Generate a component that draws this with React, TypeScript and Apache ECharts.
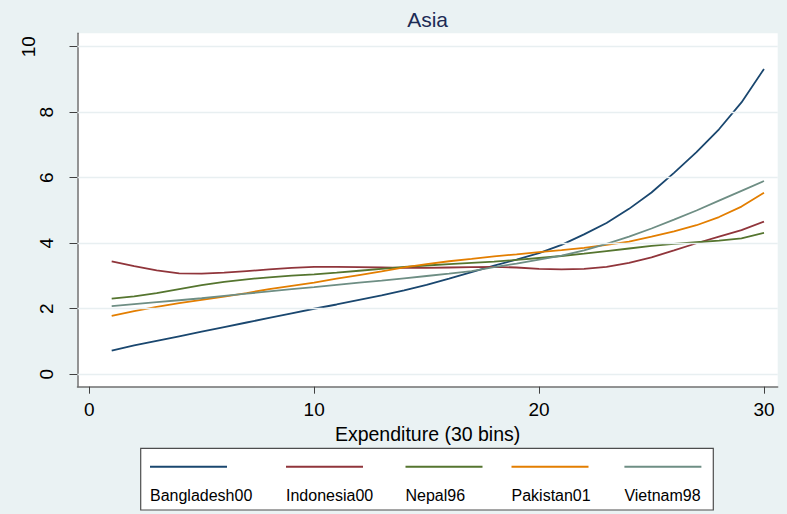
import React, { useEffect, useRef } from "react";
import * as echarts from "echarts";

const bins = [1, 2, 3, 4, 5, 6, 7, 8, 9, 10, 11, 12, 13, 14, 15, 16, 17, 18, 19, 20, 21, 22, 23, 24, 25, 26, 27, 28, 29, 30];

const seriesNames = ["Bangladesh00", "Indonesia00", "Nepal96", "Pakistan01", "Vietnam98"];

const bangladesh00 = [0.72, 0.88, 1.02, 1.16, 1.3, 1.44, 1.58, 1.72, 1.86, 2.0, 2.13, 2.27, 2.41, 2.56, 2.73, 2.92, 3.12, 3.32, 3.5, 3.7, 3.95, 4.27, 4.62, 5.05, 5.55, 6.15, 6.78, 7.48, 8.3, 9.32];
const indonesia00 = [3.45, 3.3, 3.17, 3.08, 3.07, 3.1, 3.15, 3.2, 3.25, 3.28, 3.28, 3.27, 3.26, 3.25, 3.25, 3.26, 3.27, 3.28, 3.26, 3.22, 3.2, 3.22, 3.28, 3.4, 3.57, 3.78, 4.0, 4.2, 4.4, 4.66];
const nepal96 = [2.31, 2.38, 2.48, 2.6, 2.72, 2.82, 2.9, 2.96, 3.01, 3.05, 3.1, 3.16, 3.22, 3.28, 3.32, 3.36, 3.4, 3.44, 3.49, 3.55, 3.61, 3.68, 3.76, 3.84, 3.92, 3.98, 4.03, 4.08, 4.15, 4.32];
const pakistan01 = [1.78, 1.93, 2.06, 2.17, 2.27, 2.37, 2.48, 2.6, 2.7, 2.8, 2.92, 3.03, 3.14, 3.26, 3.36, 3.45, 3.52, 3.6, 3.66, 3.73, 3.79, 3.86, 3.95, 4.05, 4.2, 4.36, 4.55, 4.8, 5.12, 5.54];
const vietnam98 = [2.08, 2.14, 2.2, 2.26, 2.32, 2.39, 2.46, 2.53, 2.6, 2.66, 2.73, 2.8, 2.86, 2.93, 3.0, 3.07, 3.15, 3.27, 3.38, 3.5, 3.62, 3.78, 3.98, 4.2, 4.45, 4.72, 5.0, 5.3, 5.6, 5.9];

const seriesValues = [bangladesh00, indonesia00, nepal96, pakistan01, vietnam98];

const xTicks = [0, 10, 20, 30];
const yTicks = [0, 2, 4, 6, 8, 10];
const yLabelsLow = [0, 2, 4, 6, 8];
const yLabelsHigh = [10];

const FONT = "Liberation Sans";
const colors = ["#1a476f", "#90353b", "#55752f", "#e37e00", "#6e8e84"];

// legend column left edges (px)
const legendCols = [150, 286, 405.5, 511.5, 624.4];

export default function App() {
  const ref = useRef<HTMLDivElement>(null);
  useEffect(() => {
    if (!ref.current) return;
    const chart = echarts.init(ref.current, undefined, { renderer: "svg" });

    const lineSeries = seriesNames.map((name, i) => ({
      name,
      type: "line",
      data: bins.map((b, j) => [b, seriesValues[i][j]]),
      showSymbol: false,
      symbol: "none",
      z: 3,
      lineStyle: { color: colors[i], width: 1.8 },
      itemStyle: { color: colors[i] },
    }));

    const iconLegends = seriesNames.map((name, i) => ({
      data: [name],
      left: legendCols[i],
      top: 458.7,
      padding: 0,
      icon: "rect",
      itemWidth: 77,
      itemHeight: 2,
      itemGap: 0,
      selectedMode: false,
      formatter: () => " ",
      textStyle: { fontSize: 16, fontFamily: FONT },
      z: 6,
    }));

    const labelLegends = seriesNames.map((name, i) => ({
      data: [name],
      left: legendCols[i] - 5,
      top: 487.5,
      padding: 0,
      icon: "rect",
      itemWidth: 0,
      itemHeight: 0,
      itemGap: 0,
      selectedMode: false,
      itemStyle: { opacity: 0 },
      textStyle: { fontSize: 16, color: "#000", fontFamily: FONT },
      z: 6,
    }));

    const axisLineStyle = { color: "#707070", width: 1.5 };

    chart.setOption({
      animation: false,
      backgroundColor: "#eaf2f3",
      title: {
        text: "Asia",
        left: 427.6,
        textAlign: "center",
        top: 8.5,
        padding: 0,
        textStyle: { fontSize: 21, fontWeight: "normal", color: "#1c2b55", fontFamily: FONT },
      },
      grid: {
        left: 77.5,
        right: 9.3,
        top: 33.3,
        bottom: 127.3,
        show: true,
        backgroundColor: "#ffffff",
        borderWidth: 0,
        containLabel: false,
        outerBoundsMode: "none",
      },
      xAxis: {
        type: "value",
        min: -0.52,
        max: 30.61,
        axisLine: { show: true, onZero: false, lineStyle: axisLineStyle },
        axisTick: { show: true, customValues: xTicks, length: 7, lineStyle: { color: "#404040", width: 1 } },
        axisLabel: { customValues: xTicks, fontSize: 19, color: "#000", margin: 13, fontFamily: FONT },
        splitLine: { show: false },
        name: "Expenditure (30 bins)",
        nameLocation: "middle",
        nameGap: 26,
        nameTextStyle: { fontSize: 19.5, color: "#000", fontFamily: FONT },
      },
      yAxis: [
        {
          type: "value",
          min: -0.38,
          max: 10.41,
          position: "left",
          axisLine: { show: true, onZero: false, lineStyle: axisLineStyle },
          axisTick: { show: true, customValues: yTicks, length: 8, lineStyle: { color: "#404040", width: 1 } },
          axisLabel: { customValues: yLabelsLow, rotate: 90, fontSize: 19, color: "#000", margin: 21.6, fontFamily: FONT },
          splitLine: { show: false },
        },
        {
          type: "value",
          min: -0.38,
          max: 10.41,
          position: "left",
          offset: 0,
          axisLine: { show: false },
          axisTick: { show: false },
          axisLabel: { customValues: yLabelsHigh, rotate: 90, fontSize: 19, color: "#000", margin: 39.6, fontFamily: FONT },
          splitLine: { show: false },
        },
      ],
      legend: [...iconLegends, ...labelLegends],
      graphic: [
        {
          type: "rect",
          z: 1,
          shape: { x: 140.7, y: 448.3, width: 572.6, height: 61.7 },
          style: { fill: "#ffffff", stroke: "#4d4d4d", lineWidth: 1.2 },
        },
      ],
      series: [
        {
          name: "grid",
          type: "line",
          data: [],
          z: 1,
          silent: true,
          markLine: {
            silent: true,
            symbol: "none",
            label: { show: false },
            lineStyle: { color: "#e8eff1", width: 1.4, type: "solid" },
            data: yTicks.map((v) => ({ yAxis: v })),
          },
        },
        ...lineSeries,
      ],
    });
    return () => chart.dispose();
  }, []);
  return <div ref={ref} style={{ position: "absolute", left: 0, top: 0, width: 787, height: 514 }} />;
}
